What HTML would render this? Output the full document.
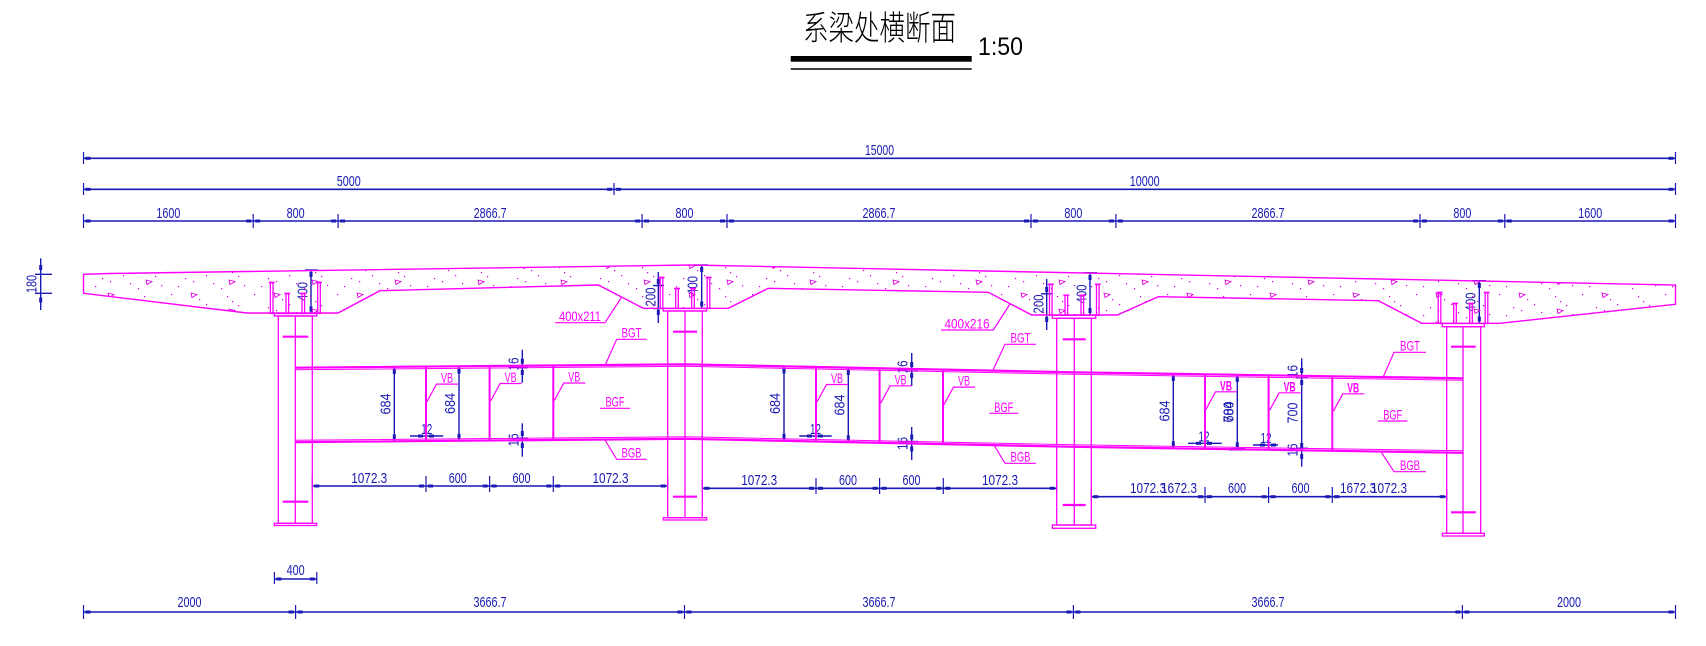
<!DOCTYPE html>
<html>
<head>
<meta charset="utf-8">
<style>
html,body{margin:0;padding:0;background:#fff;}
svg{display:block;}
.d{font-family:"Liberation Sans",sans-serif;font-size:15px;fill:#1a1ab4;}
.l{font-family:"Liberation Sans",sans-serif;font-size:14px;fill:#ff00ff;}
</style>
</head>
<body>
<svg xmlns="http://www.w3.org/2000/svg" width="1706" height="646" viewBox="0 0 1706 646">
<defs>
<pattern id="conc" patternUnits="userSpaceOnUse" width="83" height="29">
<g fill="#d000d0">
<rect x="5" y="4" width="1.2" height="1.2"/><rect x="19" y="17" width="1.2" height="1.2"/>
<rect x="33" y="9" width="1.2" height="1.2"/><rect x="47" y="22" width="1.2" height="1.2"/>
<rect x="61" y="6" width="1.2" height="1.2"/><rect x="72" y="15" width="1.2" height="1.2"/>
<rect x="12" y="25" width="1.2" height="1.2"/><rect x="40" y="14" width="1.2" height="1.2"/>
<rect x="55" y="27" width="1.2" height="1.2"/><rect x="78" y="24" width="1.2" height="1.2"/>
<rect x="27" y="20" width="1.2" height="1.2"/><rect x="66" y="11" width="1.2" height="1.2"/>
</g>
<path d="M25 3l6 1.5-5 3z M63 19l6 1.5-5 3z" fill="none" stroke="#e000e0" stroke-width="0.9"/>
</pattern>
</defs>
<rect width="1706" height="646" fill="#fff"/>

<!-- Title -->
<text x="803" y="40" font-family="'Noto Sans CJK SC','WenQuanYi Zen Hei',sans-serif" font-size="34" font-weight="300" textLength="153" lengthAdjust="spacingAndGlyphs" fill="#000">系梁处横断面</text>
<text x="978" y="55" font-family="'Liberation Sans',sans-serif" font-size="25" textLength="45" lengthAdjust="spacingAndGlyphs" fill="#000">1:50</text>
<rect x="790.7" y="56" width="181" height="5.7" fill="#000"/>
<line x1="790.7" y1="69" x2="971.7" y2="69" stroke="#000" stroke-width="1.5"/>

<!-- ===== DIMENSIONS (blue) ===== -->
<g stroke="#1a1ab4" stroke-width="1.6" fill="none">
<!-- top line 1 -->
<line x1="83.5" y1="158.3" x2="1675.5" y2="158.3"/>
<!-- top line 2 -->
<line x1="83.5" y1="189.3" x2="1675.5" y2="189.3"/>
<!-- top line 3 -->
<line x1="83.5" y1="221" x2="1675.5" y2="221"/>
<!-- bottom -->
<line x1="83.5" y1="612" x2="1675.5" y2="612"/>
<line x1="274.4" y1="579" x2="316.8" y2="579"/>
<!-- girder chains -->
<line x1="312.3" y1="486" x2="667.7" y2="486"/>
<line x1="702.3" y1="488.3" x2="1056.7" y2="488.3"/>
<line x1="1091.3" y1="496.7" x2="1446.7" y2="496.7"/>
</g>
<g stroke="#1a1ab4" stroke-width="1.2">
<!-- ticks line1 -->
<line x1="83.5" y1="152" x2="83.5" y2="164"/><line x1="1675.5" y1="152" x2="1675.5" y2="164"/>
<!-- ticks line2 -->
<line x1="83.5" y1="183" x2="83.5" y2="195"/><line x1="614" y1="183" x2="614" y2="195"/><line x1="1675.5" y1="183" x2="1675.5" y2="195"/>
<!-- ticks line3 -->
<line x1="83.5" y1="214" x2="83.5" y2="228"/><line x1="253.2" y1="214" x2="253.2" y2="228"/><line x1="338.1" y1="214" x2="338.1" y2="228"/><line x1="642.1" y1="214" x2="642.1" y2="228"/><line x1="727" y1="214" x2="727" y2="228"/><line x1="1031" y1="214" x2="1031" y2="228"/><line x1="1115.9" y1="214" x2="1115.9" y2="228"/><line x1="1420" y1="214" x2="1420" y2="228"/><line x1="1504.8" y1="214" x2="1504.8" y2="228"/><line x1="1675.5" y1="214" x2="1675.5" y2="228"/>
<!-- bottom ticks -->
<line x1="83.5" y1="605" x2="83.5" y2="619"/><line x1="295.6" y1="605" x2="295.6" y2="619"/><line x1="684.5" y1="605" x2="684.5" y2="619"/><line x1="1073.4" y1="605" x2="1073.4" y2="619"/><line x1="1462.4" y1="605" x2="1462.4" y2="619"/><line x1="1675.5" y1="605" x2="1675.5" y2="619"/>
<line x1="274.4" y1="572" x2="274.4" y2="584"/><line x1="316.8" y1="572" x2="316.8" y2="584"/>
<!-- bay chain ticks -->
<line x1="312.3" y1="478" x2="312.3" y2="490"/><line x1="426" y1="476" x2="426" y2="492"/><line x1="489.6" y1="476" x2="489.6" y2="492"/><line x1="553.3" y1="476" x2="553.3" y2="492"/><line x1="667.7" y1="478" x2="667.7" y2="490"/>
<line x1="702.3" y1="480" x2="702.3" y2="492"/><line x1="816" y1="478" x2="816" y2="494"/><line x1="879.6" y1="478" x2="879.6" y2="494"/><line x1="943.3" y1="478" x2="943.3" y2="494"/><line x1="1056.7" y1="480" x2="1056.7" y2="492"/>
<line x1="1091.3" y1="489" x2="1091.3" y2="501"/><line x1="1205" y1="487" x2="1205" y2="503"/><line x1="1268.6" y1="487" x2="1268.6" y2="503"/><line x1="1332.3" y1="487" x2="1332.3" y2="503"/><line x1="1446.7" y1="489" x2="1446.7" y2="501"/>
</g>
<g fill="#1a1ab4">
<rect x="85.5" y="156.8" width="5" height="3"/><rect x="1668.5" y="156.8" width="5" height="3"/>
<rect x="85.5" y="187.8" width="5" height="3"/><rect x="607" y="187.8" width="5" height="3"/><rect x="616" y="187.8" width="5" height="3"/><rect x="1668.5" y="187.8" width="5" height="3"/>
<rect x="85.5" y="219.5" width="5" height="3"/><rect x="246.2" y="219.5" width="5" height="3"/><rect x="255.2" y="219.5" width="5" height="3"/><rect x="331.1" y="219.5" width="5" height="3"/><rect x="340.1" y="219.5" width="5" height="3"/><rect x="635.1" y="219.5" width="5" height="3"/><rect x="644.1" y="219.5" width="5" height="3"/><rect x="720" y="219.5" width="5" height="3"/><rect x="729" y="219.5" width="5" height="3"/><rect x="1024" y="219.5" width="5" height="3"/><rect x="1033" y="219.5" width="5" height="3"/><rect x="1108.9" y="219.5" width="5" height="3"/><rect x="1117.9" y="219.5" width="5" height="3"/><rect x="1413" y="219.5" width="5" height="3"/><rect x="1422" y="219.5" width="5" height="3"/><rect x="1497.8" y="219.5" width="5" height="3"/><rect x="1506.8" y="219.5" width="5" height="3"/><rect x="1668.5" y="219.5" width="5" height="3"/>
<rect x="85.5" y="610.5" width="5" height="3"/><rect x="288.6" y="610.5" width="5" height="3"/><rect x="297.6" y="610.5" width="5" height="3"/><rect x="677.5" y="610.5" width="5" height="3"/><rect x="686.5" y="610.5" width="5" height="3"/><rect x="1066.4" y="610.5" width="5" height="3"/><rect x="1075.4" y="610.5" width="5" height="3"/><rect x="1455.4" y="610.5" width="5" height="3"/><rect x="1464.4" y="610.5" width="5" height="3"/><rect x="1668.5" y="610.5" width="5" height="3"/>
<rect x="276.4" y="577.5" width="5" height="3"/><rect x="309.8" y="577.5" width="5" height="3"/>
<rect x="314.3" y="484.5" width="5" height="3"/><rect x="419" y="484.5" width="5" height="3"/><rect x="428" y="484.5" width="5" height="3"/><rect x="482.6" y="484.5" width="5" height="3"/><rect x="491.6" y="484.5" width="5" height="3"/><rect x="546.3" y="484.5" width="5" height="3"/><rect x="555.3" y="484.5" width="5" height="3"/><rect x="660.7" y="484.5" width="5" height="3"/>
<rect x="704.3" y="486.8" width="5" height="3"/><rect x="809" y="486.8" width="5" height="3"/><rect x="818" y="486.8" width="5" height="3"/><rect x="872.6" y="486.8" width="5" height="3"/><rect x="881.6" y="486.8" width="5" height="3"/><rect x="936.3" y="486.8" width="5" height="3"/><rect x="945.3" y="486.8" width="5" height="3"/><rect x="1049.7" y="486.8" width="5" height="3"/>
<rect x="1093.3" y="495.2" width="5" height="3"/><rect x="1198" y="495.2" width="5" height="3"/><rect x="1207" y="495.2" width="5" height="3"/><rect x="1261.6" y="495.2" width="5" height="3"/><rect x="1270.6" y="495.2" width="5" height="3"/><rect x="1325.3" y="495.2" width="5" height="3"/><rect x="1334.3" y="495.2" width="5" height="3"/><rect x="1439.7" y="495.2" width="5" height="3"/>
</g>
<g class="d" text-anchor="middle" lengthAdjust="spacingAndGlyphs">
<text x="879.5" y="155" textLength="29" lengthAdjust="spacingAndGlyphs">15000</text>
<text x="348.7" y="186" textLength="24" lengthAdjust="spacingAndGlyphs">5000</text>
<text x="1144.7" y="186" textLength="30" lengthAdjust="spacingAndGlyphs">10000</text>
<text x="168.4" y="218" textLength="24" lengthAdjust="spacingAndGlyphs">1600</text>
<text x="295.6" y="218" textLength="18" lengthAdjust="spacingAndGlyphs">800</text>
<text x="490.1" y="218" textLength="33" lengthAdjust="spacingAndGlyphs">2866.7</text>
<text x="684.5" y="218" textLength="18" lengthAdjust="spacingAndGlyphs">800</text>
<text x="879" y="218" textLength="33" lengthAdjust="spacingAndGlyphs">2866.7</text>
<text x="1073.4" y="218" textLength="18" lengthAdjust="spacingAndGlyphs">800</text>
<text x="1268" y="218" textLength="33" lengthAdjust="spacingAndGlyphs">2866.7</text>
<text x="1462.4" y="218" textLength="18" lengthAdjust="spacingAndGlyphs">800</text>
<text x="1590.2" y="218" textLength="24" lengthAdjust="spacingAndGlyphs">1600</text>
<text x="189.5" y="607" textLength="24" lengthAdjust="spacingAndGlyphs">2000</text>
<text x="490" y="607" textLength="33" lengthAdjust="spacingAndGlyphs">3666.7</text>
<text x="879" y="607" textLength="33" lengthAdjust="spacingAndGlyphs">3666.7</text>
<text x="1268" y="607" textLength="33" lengthAdjust="spacingAndGlyphs">3666.7</text>
<text x="1569" y="607" textLength="24" lengthAdjust="spacingAndGlyphs">2000</text>
<text x="295.6" y="575" textLength="18" lengthAdjust="spacingAndGlyphs">400</text>
<text x="369.2" y="483" textLength="36" lengthAdjust="spacingAndGlyphs">1072.3</text>
<text x="457.8" y="483" textLength="18" lengthAdjust="spacingAndGlyphs">600</text>
<text x="521.5" y="483" textLength="18" lengthAdjust="spacingAndGlyphs">600</text>
<text x="610.5" y="483" textLength="36" lengthAdjust="spacingAndGlyphs">1072.3</text>
<text x="759.2" y="485" textLength="36" lengthAdjust="spacingAndGlyphs">1072.3</text>
<text x="848" y="485" textLength="18" lengthAdjust="spacingAndGlyphs">600</text>
<text x="911.5" y="485" textLength="18" lengthAdjust="spacingAndGlyphs">600</text>
<text x="1000" y="485" textLength="36" lengthAdjust="spacingAndGlyphs">1072.3</text>
<text x="1148" y="493" textLength="36" lengthAdjust="spacingAndGlyphs">1072.3</text>
<text x="1179" y="493" textLength="36" lengthAdjust="spacingAndGlyphs">1672.3</text>
<text x="1237" y="493" textLength="18" lengthAdjust="spacingAndGlyphs">600</text>
<text x="1300.5" y="493" textLength="18" lengthAdjust="spacingAndGlyphs">600</text>
<text x="1358" y="493" textLength="36" lengthAdjust="spacingAndGlyphs">1672.3</text>
<text x="1389" y="493" textLength="36" lengthAdjust="spacingAndGlyphs">1072.3</text>
<!-- 12 -->
<text x="426.7" y="434" textLength="11" lengthAdjust="spacingAndGlyphs">12</text>
<text x="815.5" y="434" textLength="11" lengthAdjust="spacingAndGlyphs">12</text>
<text x="1204" y="441.5" textLength="11" lengthAdjust="spacingAndGlyphs">12</text>
<text x="1266" y="443" textLength="11" lengthAdjust="spacingAndGlyphs">12</text>
</g>

<!-- left 180 dim -->
<g stroke="#1a1ab4" stroke-width="1.4">
<line x1="40.7" y1="258.3" x2="40.7" y2="310"/>
<line x1="35" y1="274.3" x2="52" y2="274.3"/>
<line x1="35" y1="293.3" x2="52" y2="293.3"/>
</g>
<g fill="#1a1ab4"><rect x="39.2" y="265" width="3" height="5"/><rect x="39.2" y="297.5" width="3" height="5"/></g>

<!-- vertical dims in deck and girder -->
<g stroke="#1a1ab4" stroke-width="1.4">
<!-- col1 400 -->
<line x1="311" y1="270" x2="311" y2="313.5"/><line x1="305" y1="270" x2="318" y2="270"/>
<!-- col2 200 / 400 -->
<line x1="658.3" y1="272" x2="658.3" y2="323"/><line x1="653" y1="285.5" x2="664" y2="285.5"/><line x1="653" y1="308.5" x2="664" y2="308.5"/>
<line x1="701.7" y1="265" x2="701.7" y2="308.5"/><line x1="694" y1="265" x2="708" y2="265"/>
<!-- col3 200 / 400 -->
<line x1="1046.7" y1="279" x2="1046.7" y2="330"/><line x1="1041" y1="293.8" x2="1052" y2="293.8"/>
<line x1="1090" y1="272.8" x2="1090" y2="315"/><line x1="1083" y1="272.8" x2="1097" y2="272.8"/>
<!-- col4 400 -->
<line x1="1479.3" y1="280.7" x2="1479.3" y2="323.5"/><line x1="1472" y1="280.7" x2="1486" y2="280.7"/>
<!-- 684 dims -->
<line x1="394.3" y1="366.8" x2="394.3" y2="441.3"/><line x1="387" y1="366.8" x2="401" y2="366.8"/><line x1="387" y1="441.3" x2="401" y2="441.3"/>
<line x1="459" y1="366.3" x2="459" y2="440.8"/><line x1="452" y1="366.3" x2="466" y2="366.3"/><line x1="452" y1="440.8" x2="466" y2="440.8"/>
<line x1="784" y1="366.3" x2="784" y2="440.8"/><line x1="777" y1="366.3" x2="791" y2="366.3"/><line x1="777" y1="440.8" x2="791" y2="440.8"/>
<line x1="848.3" y1="367.7" x2="848.3" y2="442.2"/><line x1="841" y1="367.7" x2="855" y2="367.7"/><line x1="841" y1="442.2" x2="855" y2="442.2"/>
<line x1="1173.3" y1="373.8" x2="1173.3" y2="448.3"/><line x1="1166" y1="373.8" x2="1180" y2="373.8"/><line x1="1166" y1="448.3" x2="1180" y2="448.3"/>
<line x1="1237.3" y1="374.8" x2="1237.3" y2="449.3"/><line x1="1230" y1="374.8" x2="1244" y2="374.8"/><line x1="1229" y1="449.3" x2="1245" y2="449.3" stroke-width="2.5"/>
<line x1="1301.7" y1="358.3" x2="1301.7" y2="466.7"/><line x1="1294" y1="375.8" x2="1309" y2="375.8"/><line x1="1294" y1="450.3" x2="1309" y2="450.3"/>
<!-- 16 dims -->
<line x1="522.3" y1="349.7" x2="522.3" y2="382.7"/><line x1="516" y1="365.7" x2="528" y2="365.7"/><line x1="516" y1="367.7" x2="528" y2="367.7"/>
<line x1="522.3" y1="423.3" x2="522.3" y2="456.7"/><line x1="516" y1="438.2" x2="528" y2="438.2"/><line x1="516" y1="440.2" x2="528" y2="440.2"/>
<line x1="911.7" y1="353" x2="911.7" y2="386"/><line x1="905" y1="369" x2="918" y2="369"/><line x1="905" y1="371" x2="918" y2="371"/>
<line x1="911.7" y1="427" x2="911.7" y2="460"/><line x1="905" y1="441.5" x2="918" y2="441.5"/><line x1="905" y1="443.5" x2="918" y2="443.5"/>
<line x1="1296" y1="377.8" x2="1308" y2="377.8"/><line x1="1296" y1="448.3" x2="1308" y2="448.3"/>
<!-- 12 dims -->
<line x1="410" y1="436" x2="443.3" y2="436"/>
<line x1="799.3" y1="436" x2="831.7" y2="436"/>
<line x1="1188" y1="443.3" x2="1221.7" y2="443.3"/>
<line x1="1253" y1="445" x2="1278" y2="445"/>
</g>
<g fill="#1a1ab4">
<rect x="309.5" y="272" width="3" height="5"/><rect x="309.5" y="306.5" width="3" height="5"/>
<rect x="656.8" y="279" width="3" height="5"/><rect x="656.8" y="310" width="3" height="5"/>
<rect x="700.2" y="267" width="3" height="5"/><rect x="700.2" y="301.5" width="3" height="5"/>
<rect x="1045.2" y="287" width="3" height="5"/><rect x="1045.2" y="317" width="3" height="5"/>
<rect x="1088.5" y="275" width="3" height="5"/><rect x="1088.5" y="308" width="3" height="5"/>
<rect x="1477.8" y="283" width="3" height="5"/><rect x="1477.8" y="316.5" width="3" height="5"/>
<rect x="392.8" y="369" width="3" height="5"/><rect x="392.8" y="434.3" width="3" height="5"/>
<rect x="457.5" y="368.5" width="3" height="5"/><rect x="457.5" y="433.8" width="3" height="5"/>
<rect x="782.5" y="368.5" width="3" height="5"/><rect x="782.5" y="433.8" width="3" height="5"/>
<rect x="846.8" y="370" width="3" height="5"/><rect x="846.8" y="435.2" width="3" height="5"/>
<rect x="1171.8" y="376" width="3" height="5"/><rect x="1171.8" y="441.3" width="3" height="5"/>
<rect x="1235.8" y="377" width="3" height="5"/><rect x="1235.8" y="442.3" width="3" height="5"/>
<rect x="1300.2" y="368" width="3" height="5"/><rect x="1300.2" y="380" width="3" height="5"/><rect x="1300.2" y="443" width="3" height="5"/><rect x="1300.2" y="454" width="3" height="5"/>
<rect x="520.8" y="358.7" width="3" height="5"/><rect x="520.8" y="370" width="3" height="5"/>
<rect x="520.8" y="431" width="3" height="5"/><rect x="520.8" y="443" width="3" height="5"/>
<rect x="910.2" y="362" width="3" height="5"/><rect x="910.2" y="373" width="3" height="5"/>
<rect x="910.2" y="434.5" width="3" height="5"/><rect x="910.2" y="446.5" width="3" height="5"/>
<rect x="418" y="434.5" width="5" height="3"/><rect x="429" y="434.5" width="5" height="3"/>
<rect x="807" y="434.5" width="5" height="3"/><rect x="818" y="434.5" width="5" height="3"/>
<rect x="1196" y="441.8" width="5" height="3"/><rect x="1207" y="441.8" width="5" height="3"/>
<rect x="1260" y="443.5" width="5" height="3"/><rect x="1271" y="443.5" width="5" height="3"/>
</g>
<g class="d" text-anchor="middle">
<text transform="translate(31.5,284) rotate(-90)" y="5" textLength="18" lengthAdjust="spacingAndGlyphs">180</text>
<text transform="translate(302.5,291.5) rotate(-90)" y="5" textLength="19" lengthAdjust="spacingAndGlyphs">400</text>
<text transform="translate(650.5,297) rotate(-90)" y="5" textLength="19" lengthAdjust="spacingAndGlyphs">200</text>
<text transform="translate(692.7,285.5) rotate(-90)" y="5" textLength="19" lengthAdjust="spacingAndGlyphs">400</text>
<text transform="translate(1038.5,304) rotate(-90)" y="5" textLength="19" lengthAdjust="spacingAndGlyphs">200</text>
<text transform="translate(1081.5,294) rotate(-90)" y="5" textLength="19" lengthAdjust="spacingAndGlyphs">400</text>
<text transform="translate(1470.5,302) rotate(-90)" y="5" textLength="19" lengthAdjust="spacingAndGlyphs">400</text>
<text transform="translate(385.3,404) rotate(-90)" y="5" textLength="21" lengthAdjust="spacingAndGlyphs">684</text>
<text transform="translate(450,403.5) rotate(-90)" y="5" textLength="21" lengthAdjust="spacingAndGlyphs">684</text>
<text transform="translate(775,403.5) rotate(-90)" y="5" textLength="21" lengthAdjust="spacingAndGlyphs">684</text>
<text transform="translate(839.3,405) rotate(-90)" y="5" textLength="21" lengthAdjust="spacingAndGlyphs">684</text>
<text transform="translate(1164.3,411) rotate(-90)" y="5" textLength="21" lengthAdjust="spacingAndGlyphs">684</text>
<text transform="translate(1228.3,412) rotate(-90)" y="5" textLength="21" lengthAdjust="spacingAndGlyphs">684</text>
<text transform="translate(1228.3,412) rotate(-90)" y="5" textLength="21" lengthAdjust="spacingAndGlyphs">700</text>
<text transform="translate(1292.7,413) rotate(-90)" y="5" textLength="21" lengthAdjust="spacingAndGlyphs">700</text>
<text transform="translate(513.3,364) rotate(-90)" y="5" textLength="13" lengthAdjust="spacingAndGlyphs">16</text>
<text transform="translate(513.3,440) rotate(-90)" y="5" textLength="13" lengthAdjust="spacingAndGlyphs">16</text>
<text transform="translate(902.7,367) rotate(-90)" y="5" textLength="13" lengthAdjust="spacingAndGlyphs">16</text>
<text transform="translate(902.7,443.5) rotate(-90)" y="5" textLength="13" lengthAdjust="spacingAndGlyphs">16</text>
<text transform="translate(1292.7,371.5) rotate(-90)" y="5" textLength="13" lengthAdjust="spacingAndGlyphs">16</text>
<text transform="translate(1292.7,450) rotate(-90)" y="5" textLength="13" lengthAdjust="spacingAndGlyphs">16</text>
</g>

<!-- ===== STRUCTURE (magenta) ===== -->
<!-- deck -->
<polygon points="83.5,274.3 110,273.5 690,265 1675.5,285 1675.5,304.3 1500,323.3 1421.7,323.3 1378.3,300.7 1158.3,296.7 1117.3,315 1031.7,315 988.3,292.3 768.3,288.3 728.3,308.3 643.3,308.3 598.3,285 380,290.7 338,313 247,313 83.5,293.3" fill="url(#conc)" stroke="#ff00ff" stroke-width="1.4"/>

<g stroke="#ff00ff" stroke-width="1.3" fill="none">
<!-- columns -->
<rect x="278.3" y="316" width="34" height="207.3"/><line x1="295.3" y1="316" x2="295.3" y2="523.3"/>
<rect x="274.3" y="313.5" width="42.4" height="2.5"/><rect x="274.3" y="523.3" width="42.4" height="2.2"/>
<rect x="667.7" y="311" width="34.6" height="206.7"/><line x1="685" y1="311" x2="685" y2="517.7"/>
<rect x="663.3" y="308.5" width="43.4" height="2.5"/><rect x="663.3" y="517.7" width="43.4" height="2.3"/>
<rect x="1056.7" y="318.3" width="34.6" height="206.7"/><line x1="1074.3" y1="318.3" x2="1074.3" y2="525"/>
<rect x="1052.3" y="315.3" width="43.4" height="3"/><rect x="1052.3" y="525" width="43.4" height="3.3"/>
<rect x="1446.7" y="326.7" width="34" height="206.6"/><line x1="1463" y1="326.7" x2="1463" y2="533.3"/>
<rect x="1442.3" y="323.5" width="42" height="3.2"/><rect x="1442.3" y="533.3" width="42" height="2.7"/>

<!-- studs col1 -->
<rect x="270.4" y="282.5" width="2.6" height="31"/><rect x="286" y="293.5" width="2.6" height="20"/><rect x="302" y="293.5" width="2.6" height="20"/><rect x="317.7" y="282.5" width="2.6" height="31"/>
<!-- studs col2 -->
<rect x="660.2" y="277.5" width="2.6" height="31"/><rect x="675.7" y="288.5" width="2.6" height="20"/><rect x="691.7" y="288.5" width="2.6" height="20"/><rect x="707.2" y="277.5" width="2.6" height="31"/>
<!-- studs col3 -->
<rect x="1049.5" y="284.3" width="2.6" height="31"/><rect x="1065" y="295.3" width="2.6" height="20"/><rect x="1081" y="295.3" width="2.6" height="20"/><rect x="1096.5" y="284.3" width="2.6" height="31"/>
<!-- studs col4 -->
<rect x="1438.2" y="292.5" width="2.6" height="31"/><rect x="1453.7" y="303.5" width="2.6" height="20"/><rect x="1469.7" y="303.5" width="2.6" height="20"/><rect x="1485.2" y="292.5" width="2.6" height="31"/>
</g>
<g stroke="#ff00ff" stroke-width="1.6">
<!-- stud heads -->
<line x1="268.7" y1="282.5" x2="274.7" y2="282.5"/><line x1="284.3" y1="293.5" x2="290.3" y2="293.5"/><line x1="300.3" y1="293.5" x2="306.3" y2="293.5"/><line x1="316" y1="282.5" x2="322" y2="282.5"/>
<line x1="658.5" y1="277.5" x2="664.5" y2="277.5"/><line x1="674" y1="288.5" x2="680" y2="288.5"/><line x1="690" y1="288.5" x2="696" y2="288.5"/><line x1="705.5" y1="277.5" x2="711.5" y2="277.5"/>
<line x1="1047.8" y1="284.3" x2="1053.8" y2="284.3"/><line x1="1063.3" y1="295.3" x2="1069.3" y2="295.3"/><line x1="1079.3" y1="295.3" x2="1085.3" y2="295.3"/><line x1="1094.8" y1="284.3" x2="1100.8" y2="284.3"/>
<line x1="1436.5" y1="292.5" x2="1442.5" y2="292.5"/><line x1="1452" y1="303.5" x2="1458" y2="303.5"/><line x1="1468" y1="303.5" x2="1474" y2="303.5"/><line x1="1483.5" y1="292.5" x2="1489.5" y2="292.5"/>
</g>
<g stroke="#ff00ff" stroke-width="2.2">
<!-- column stiffener marks -->
<line x1="282.7" y1="336.7" x2="308.3" y2="336.7"/><line x1="282.7" y1="501.7" x2="308.3" y2="501.7"/>
<line x1="673" y1="331.7" x2="697" y2="331.7"/><line x1="673" y1="496.7" x2="697" y2="496.7"/>
<line x1="1062.7" y1="339.3" x2="1085.7" y2="339.3"/><line x1="1062.7" y1="505" x2="1085.7" y2="505"/>
<line x1="1451" y1="346.7" x2="1475.7" y2="346.7"/><line x1="1451" y1="512.3" x2="1475.7" y2="512.3"/>
</g>
<!-- girder flanges -->
<g stroke="#ff00ff" fill="none">
<polyline points="295.3,367.7 685,364.3 1074.3,372.3 1463,378.3" stroke-width="2.2"/>
<polyline points="295.3,369.7 685,366.3 1074.3,374.3 1463,380.3" stroke-width="1"/>
<polyline points="295.3,442.2 685,438.8 1074.3,446.8 1463,452.8" stroke-width="2.2"/>
<polyline points="295.3,440.2 685,436.8 1074.3,444.8 1463,450.8" stroke-width="1"/>
</g>
<!-- VB stiffeners -->
<g stroke="#ff00ff" stroke-width="2">
<line x1="426" y1="366.6" x2="426" y2="441.1"/>
<line x1="489.6" y1="366" x2="489.6" y2="440.5"/>
<line x1="553.3" y1="365.5" x2="553.3" y2="440"/>
<line x1="816" y1="367" x2="816" y2="441.5"/>
<line x1="879.6" y1="368.3" x2="879.6" y2="442.8"/>
<line x1="943" y1="369.6" x2="943" y2="444.1"/>
<line x1="1205" y1="374.3" x2="1205" y2="448.8"/>
<line x1="1268.6" y1="375.3" x2="1268.6" y2="449.8"/>
<line x1="1332.3" y1="376.3" x2="1332.3" y2="450.8"/>
</g>
<!-- label leaders & underlines -->
<g stroke="#ff00ff" stroke-width="1.2" fill="none">
<polyline points="458,384.1 436.5,384.1 427,401.6"/>
<polyline points="521.6,383.5 500.1,383.5 490.6,401"/>
<polyline points="585.3,383 563.8,383 554.3,400.5"/>
<polyline points="848,384.5 826.5,384.5 817,402"/>
<polyline points="911.6,385.8 890.1,385.8 880.6,403.3"/>
<polyline points="975,387.1 953.5,387.1 944,404.6"/>
<polyline points="1237,391.8 1215.5,391.8 1206,409.3"/>
<polyline points="1300.6,392.8 1279.1,392.8 1269.6,410.3"/>
<polyline points="1364.3,393.8 1342.8,393.8 1333.3,411.3"/>
<polyline points="646.7,339.3 616.7,339.3 605,365.5"/>
<polyline points="1036,344.3 1005,344.3 993.3,369.4"/>
<polyline points="1426,352.3 1394,352.3 1383.3,376.9"/>
<line x1="600" y1="408.3" x2="630" y2="408.3"/>
<line x1="989.3" y1="413.3" x2="1018.3" y2="413.3"/>
<line x1="1378" y1="421" x2="1407.3" y2="421"/>
<polyline points="605,440 616.7,459.3 646.7,459.3"/>
<polyline points="993.3,444 1005,463.3 1036,463.3"/>
<polyline points="1381.7,452.8 1394,471.7 1426,471.7"/>
<polyline points="555,322.7 605,322.7 621.7,297"/>
<polyline points="941,330 993.3,330 1010,304"/>
</g>
<g class="l" text-anchor="middle">
<text x="447" y="382.6" textLength="12" lengthAdjust="spacingAndGlyphs">VB</text>
<text x="510.6" y="382" textLength="12" lengthAdjust="spacingAndGlyphs">VB</text>
<text x="574.3" y="381.5" textLength="12" lengthAdjust="spacingAndGlyphs">VB</text>
<text x="837" y="383" textLength="12" lengthAdjust="spacingAndGlyphs">VB</text>
<text x="900.6" y="384.3" textLength="12" lengthAdjust="spacingAndGlyphs">VB</text>
<text x="964" y="385.6" textLength="12" lengthAdjust="spacingAndGlyphs">VB</text>
<text x="1226" y="390.3" textLength="12" lengthAdjust="spacingAndGlyphs" font-weight="bold">VB</text>
<text x="1289.6" y="391.3" textLength="12" lengthAdjust="spacingAndGlyphs" font-weight="bold">VB</text>
<text x="1353.3" y="392.3" textLength="12" lengthAdjust="spacingAndGlyphs" font-weight="bold">VB</text>
<text x="631.5" y="337.5" textLength="20" lengthAdjust="spacingAndGlyphs">BGT</text>
<text x="1020.5" y="342.5" textLength="20" lengthAdjust="spacingAndGlyphs">BGT</text>
<text x="1410" y="350.5" textLength="20" lengthAdjust="spacingAndGlyphs">BGT</text>
<text x="615" y="406.7" textLength="19" lengthAdjust="spacingAndGlyphs">BGF</text>
<text x="1003.8" y="411.8" textLength="19" lengthAdjust="spacingAndGlyphs">BGF</text>
<text x="1392.7" y="419.5" textLength="19" lengthAdjust="spacingAndGlyphs">BGF</text>
<text x="631.5" y="457.5" textLength="20" lengthAdjust="spacingAndGlyphs">BGB</text>
<text x="1020.5" y="461.5" textLength="20" lengthAdjust="spacingAndGlyphs">BGB</text>
<text x="1410" y="470" textLength="20" lengthAdjust="spacingAndGlyphs">BGB</text>
<text x="580" y="321" textLength="42" lengthAdjust="spacingAndGlyphs">400x211</text>
<text x="967" y="328.5" textLength="45" lengthAdjust="spacingAndGlyphs">400x216</text>
</g>
</svg>
</body>
</html>
